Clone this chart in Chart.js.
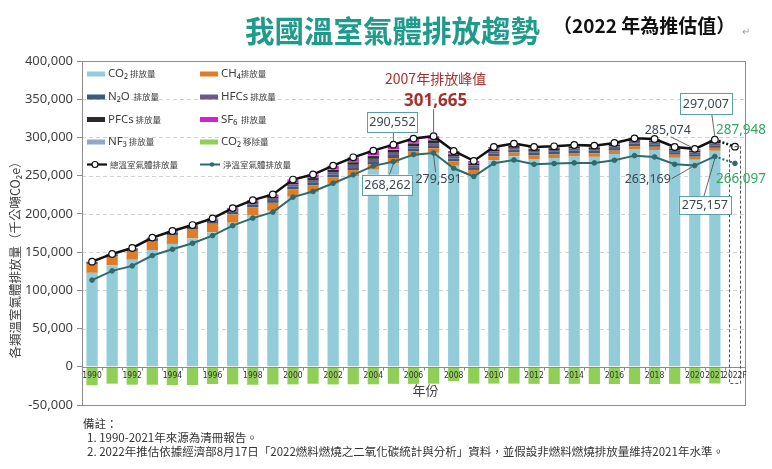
<!DOCTYPE html>
<html><head><meta charset="utf-8">
<script src="https://cdn.jsdelivr.net/npm/chart.js@4.4.0/dist/chart.umd.min.js"></script>
<style>
html,body{margin:0;padding:0;background:#fff;}
#wrap{position:relative;width:772px;height:469px;overflow:hidden;font-family:"Noto Sans CJK TC","Noto Sans",sans-serif;}
#c{position:absolute;left:0;top:0;}
.title{position:absolute;left:245px;top:15px;font-size:29.5px;font-weight:700;color:#1e9b8b;line-height:1;white-space:nowrap;}
.sub{position:absolute;left:553px;top:15px;font-size:19px;font-weight:700;color:#111;line-height:1;white-space:nowrap;}
.ret{position:absolute;left:742px;top:26px;font-size:10px;color:#999;line-height:1;}
.notes{position:absolute;left:83px;top:416px;font-size:11.5px;color:#333;line-height:14px;white-space:nowrap;}
.notes .i{padding-left:4px;}
</style></head>
<body>
<div id="wrap">
<canvas id="c" width="772" height="469"></canvas>
<div class="title">我國溫室氣體排放趨勢</div>
<div class="sub">（2022 年為推估值）</div>
<div class="ret">↵</div>
<div class="notes">備註：<br><span class="i">1. 1990-2021年來源為清冊報告。</span><br><span class="i">2. 2022年推估依據經濟部8月17日「2022燃料燃燒之二氧化碳統計與分析」資料，並假設非燃料燃燒排放量維持2021年水準。</span></div>
</div>
<script>
const years = ['1990','1991','1992','1993','1994','1995','1996','1997','1998','1999','2000','2001','2002','2003','2004','2005','2006','2007','2008','2009','2010','2011','2012','2013','2014','2015','2016','2017','2018','2019','2020','2021','2022'];
const tickLabels = ['1990','','1992','','1994','','1996','','1998','','2000','','2002','','2004','','2006','','2008','','2010','','2012','','2014','','2016','','2018','','2020','2021','2022F'];
const yTicks = [-50000,0,50000,100000,150000,200000,250000,300000,350000,400000];

const co2  = [122900,132600,140000,152700,160700,167900,175800,188400,197800,204200,222500,228500,239300,249500,257800,266300,275200,279900,262900,252100,270300,275400,271700,273000,275000,274600,278300,284200,283500,273300,270800,282500,null];
const ch4  = [11500,11600,11600,11800,11700,11500,11300,11000,10600,10200,9600,9000,8400,7800,7200,6800,6400,6000,5700,5400,5200,5000,4800,4700,4600,4500,4400,4300,4200,4100,4000,3900,null];
const n2o  = [2800,2900,3000,3100,3200,3300,3400,3500,3600,3700,3800,3800,3900,3900,4000,4000,4000,4000,3800,3600,3700,3600,3500,3500,3500,3400,3400,3400,3400,3300,3300,3300,null];
const hfcs = [300,400,600,900,1200,1500,1800,2100,2400,2600,2800,2900,3000,3000,3000,2900,2800,2700,2500,2400,2400,2400,2400,2400,2400,2400,2400,2500,2500,2500,2500,2600,null];
const pfcs = [0,0,0,100,200,300,500,800,1200,1600,2200,2600,3000,3300,3600,3700,3800,3600,3000,2400,2600,2500,2300,2200,2100,2000,2000,2000,2000,2000,2100,2200,null];
const sf6  = [0,100,200,400,600,900,1300,1800,2400,3000,3800,4400,5200,6000,6500,6200,5500,4600,3500,2600,2300,2000,1800,1600,1500,1400,1300,1300,1300,1200,1200,1200,null];
const nf3  = [0,0,0,0,0,0,0,0,0,100,200,300,400,500,600,700,800,900,900,800,1000,1000,1000,1000,1000,1000,1000,1100,1100,1100,1200,1300,null];
const removal = [-24100,-22100,-23400,-23500,-23900,-23800,-22500,-23000,-23500,-23100,-23000,-22200,-23100,-22900,-22900,-22300,-22400,-22100,-18800,-22000,-22000,-22000,-22300,-22500,-22300,-22600,-22500,-22500,-22500,-22400,-21900,-21850,-21851];
const total = [137500,147600,155400,169000,177600,185400,194100,207600,218000,225400,244900,251500,263200,274000,282700,290552,298500,301665,282300,269300,287500,291900,287500,288400,290100,289300,292800,298800,298000,287500,285074,297007,287948];
const net   = [113400,125500,132000,145500,153700,161600,171600,184600,194500,202300,221900,229300,240100,251100,262800,268262,277500,279591,259700,248900,266200,270600,264900,265800,266700,266700,270200,276200,274500,264900,263169,275157,266097];

const EST = years.length - 1;
const C = {co2:'#92ccd9', ch4:'#e07b26', n2o:'#3d5a7c', hfcs:'#6a5a86', pfcs:'#2b2b2b', sf6:'#d81fd8', nf3:'#91a9c6', rem:'#90cf56', tot:'#111111', net:'#2f6a6c'};
const fmt = v => v.toLocaleString('en-US');
const dash = c => c.p1DataIndex === EST ? [2,2] : undefined;

function barDs(label, data, color){
  return {type:'bar', label, data, backgroundColor: ctx => ctx.dataIndex === EST ? 'rgba(0,0,0,0)' : color,
          stack:'g', order:1, barPercentage:0.56, categoryPercentage:1, borderWidth:0};
}
const datasets = [
  {type:'line', label:'總溫室氣體排放量', data: total, stack:'tot', order:0, borderColor:C.tot, borderWidth:2.5,
   pointRadius:3.3, pointBackgroundColor:'#fff', pointBorderColor:C.tot, pointBorderWidth:1.2, tension:0,
   segment:{borderDash: dash}},
  {type:'line', label:'淨溫室氣體排放量', data: net, stack:'net', order:0, borderColor:C.net, borderWidth:2,
   pointRadius:2.3, pointBackgroundColor:C.net, pointBorderColor:C.net, pointBorderWidth:1, tension:0,
   segment:{borderDash: dash}},
  barDs('CO2 排放量', co2, C.co2),
  barDs('CH4排放量', ch4, C.ch4),
  barDs('N2O 排放量', n2o, C.n2o),
  barDs('HFCs 排放量', hfcs, C.hfcs),
  barDs('PFCs 排放量', pfcs, C.pfcs),
  barDs('NF3 排放量', nf3, C.nf3),
  barDs('SF6 排放量', sf6, C.sf6),
  barDs('CO2 移除量', removal, C.rem)
];
const REM = 9;

const legendItems = [
  [{sw:C.co2, a:'CO₂', b:' 排放量'}, {sw:C.ch4, a:'CH₄', b:'排放量'}],
  [{sw:C.n2o, a:'N₂O', b:'  排放量'}, {sw:C.hfcs, a:'HFCs', b:' 排放量'}],
  [{sw:C.pfcs, a:'PFCs', b:' 排放量'}, {sw:C.sf6, a:'SF₆', b:'  排放量'}],
  [{sw:C.nf3, a:'NF₃', b:' 排放量'}, {sw:C.rem, a:'CO₂', b:' 移除量'}],
  [{line:'tot', a:'', b:'總溫室氣體排放量'}, {line:'net', a:'', b:'淨溫室氣體排放量'}]
];

const LAT = '"Noto Sans","Liberation Sans",sans-serif';
const CJK = '"Noto Sans CJK TC","Noto Sans",sans-serif';

const deco = {
  id:'deco',
  beforeDatasetsDraw(chart){
    const {ctx, chartArea:a, scales:{y}} = chart;
    ctx.save();
    ctx.strokeStyle = '#d2d2d2'; ctx.lineWidth = 1; ctx.setLineDash([4,3]);
    yTicks.forEach(v => {
      if (v === 0 || v === yTicks[0] || v === yTicks[yTicks.length-1]) return;
      const py = Math.round(y.getPixelForValue(v)) + 0.5;
      ctx.beginPath(); ctx.moveTo(a.left, py); ctx.lineTo(a.right, py); ctx.stroke();
    });
    ctx.setLineDash([]);
    ctx.strokeStyle = '#8c8c8c';
    ctx.strokeRect(Math.round(a.left)+0.5, Math.round(a.top)+0.5, Math.round(a.right-a.left), Math.round(a.bottom-a.top));
    ctx.restore();
  },
  afterDatasetsDraw(chart){
    const {ctx, chartArea:a, scales:{x,y}} = chart;
    ctx.save();
    const y0 = Math.round(y.getPixelForValue(0)) + 0.5;
    ctx.strokeStyle = '#8c8c8c'; ctx.lineWidth = 1;
    ctx.beginPath(); ctx.moveTo(a.left, y0); ctx.lineTo(a.right, y0); ctx.stroke();
    const step = x.getPixelForValue(1) - x.getPixelForValue(0);
    for (let i = 0; i <= years.length; i++) {
      const px = Math.round(x.getPixelForValue(0) - step/2 + i*step) + 0.5;
      ctx.beginPath(); ctx.moveTo(px, y0); ctx.lineTo(px, y0+3); ctx.stroke();
    }
    ctx.fillStyle = '#333'; ctx.textAlign = 'center'; ctx.textBaseline = 'middle';
    ctx.font = '8.5px "Liberation Sans Narrow","DejaVu Sans Condensed","Liberation Sans",sans-serif';
    tickLabels.forEach((t,i) => { if (t) ctx.fillText(t, x.getPixelForValue(i), y0 + 8.5); });
    ctx.font = '13px ' + CJK; ctx.fillStyle = '#404040';
    ctx.fillText('年份', (a.left + a.right)/2 + 12, 390);
    const el = chart.getDatasetMeta(REM).data[EST];
    const bx = el.x - el.width/2, top = y.getPixelForValue(total[EST]), bot = y.getPixelForValue(removal[EST]);
    ctx.setLineDash([3,2]); ctx.strokeStyle = '#555'; ctx.lineWidth = 1;
    ctx.strokeRect(Math.round(bx)+0.5, top, Math.round(el.width), bot - top);
    ctx.setLineDash([]);
    ctx.save();
    ctx.translate(15, 257); ctx.rotate(-Math.PI/2);
    ctx.font = '12.5px ' + CJK; ctx.fillStyle = '#404040';
    ctx.fillText('各類溫室氣體排放量（千公噸CO₂e）', 0, 0);
    ctx.restore();
    const colX = [87, 200], rowY = [74, 97, 119.5, 142, 164.5];
    ctx.textAlign = 'left';
    legendItems.forEach((row, r) => row.forEach((it, c) => {
      const lx = colX[c], ly = rowY[r];
      let tx = lx + 21;
      if (it.sw) { ctx.fillStyle = it.sw; ctx.fillRect(lx, ly - 2.5, 18, 5); }
      else {
        const col = it.line === 'tot' ? C.tot : C.net;
        ctx.strokeStyle = col; ctx.lineWidth = it.line === 'tot' ? 2.2 : 2;
        ctx.beginPath(); ctx.moveTo(lx, ly); ctx.lineTo(lx + 20, ly); ctx.stroke();
        ctx.beginPath();
        if (it.line === 'tot') { ctx.arc(lx + 8, ly, 3, 0, 7); ctx.fillStyle = '#fff'; ctx.fill(); ctx.lineWidth = 1.2; ctx.stroke(); }
        else { ctx.arc(lx + 12, ly, 2.2, 0, 7); ctx.fillStyle = col; ctx.fill(); }
        tx = lx + 23;
      }
      ctx.fillStyle = '#404040';
      if (it.a) { ctx.font = '11.5px ' + LAT; ctx.fillText(it.a, tx, ly); tx += ctx.measureText(it.a).width; }
      ctx.font = '8.5px ' + CJK; ctx.fillText(it.b, tx, ly);
    }));
    const P = (ds, i) => chart.getDatasetMeta(ds).data[i];
    const line = (x1,y1,x2,y2) => { ctx.strokeStyle = '#555'; ctx.lineWidth = 0.9; ctx.beginPath(); ctx.moveTo(x1,y1); ctx.lineTo(x2,y2); ctx.stroke(); };
    const box = (cx, cy, w, h, t) => {
      ctx.fillStyle = '#fff'; ctx.fillRect(cx - w/2, cy - h/2, w, h);
      ctx.strokeStyle = '#5b9ea8'; ctx.lineWidth = 1; ctx.strokeRect(Math.round(cx - w/2)+0.5, Math.round(cy - h/2)+0.5, w, h);
      ctx.fillStyle = '#3a4650'; ctx.textAlign = 'center'; ctx.font = '12.5px ' + LAT; ctx.fillText(t, cx, cy + 0.5);
    };
    const txt = (cx, cy, t, col, f) => { ctx.fillStyle = col; ctx.textAlign = 'center'; ctx.font = f || ('12.5px ' + LAT); ctx.fillText(t, cx, cy); };
    const pk = 17, i05 = 15, i20 = 30, i21 = 31;
    let p = P(0, pk);
    line(p.x, p.y - 4, p.x, p.y - 27);
    txt(p.x + 2, p.y - 57, '2007年排放峰值', '#a8302c', '14px ' + CJK);
    txt(p.x + 2, p.y - 35, fmt(total[pk]), '#a8302c', 'bold 17px ' + LAT);
    p = P(0, i05); line(p.x, p.y - 3, p.x, p.y - 13); box(p.x - 1, p.y - 23, 50, 20, fmt(total[i05]));
    p = P(1, i05); line(p.x, p.y + 2, p.x - 4, p.y + 13); box(p.x - 6, p.y + 23, 50, 20, fmt(net[i05]));
    p = P(1, pk); line(p.x, p.y + 2, p.x + 2, p.y + 19); txt(p.x + 5, p.y + 26, fmt(net[pk]), '#3a4650');
    p = P(0, i20); line(p.x - 2, p.y - 1, p.x - 24, p.y - 12); txt(p.x - 27, p.y - 18, fmt(total[i20]), '#3a4650');
    p = P(1, i20); line(p.x - 2, p.y + 1, p.x - 23, p.y + 13); txt(p.x - 47, p.y + 14, fmt(net[i20]), '#3a4650');
    p = P(0, i21); line(p.x, p.y - 3, p.x - 3, p.y - 25); box(p.x - 9, p.y - 36, 52, 21, fmt(total[i21]));
    p = P(1, i21); line(p.x, p.y + 2, p.x - 11, p.y + 40); box(p.x - 10, p.y + 49, 52, 18, fmt(net[i21]));
    p = P(0, EST); txt(p.x + 6, p.y - 17, fmt(total[EST]), '#33a760', '13.5px ' + LAT);
    p = P(1, EST); txt(p.x + 6, p.y + 16, fmt(net[EST]), '#33a760', '13.5px ' + LAT);
    ctx.restore();
  }
};

new Chart(document.getElementById('c'), {
  data: {labels: years, datasets},
  options: {
    responsive:false, animation:false, devicePixelRatio:1,
    layout:{padding:{left:0, top:61, right:27, bottom:64}},
    plugins:{legend:{display:false}, tooltip:{enabled:false}},
    scales:{
      x:{stacked:true, display:false, offset:true},
      y:{stacked:true, min:-50000, max:400000,
         ticks:{stepSize:50000, color:'#404040', padding:4, font:{family:'"Noto Sans","Liberation Sans",sans-serif', size:13}, callback:v => fmt(v)},
         grid:{drawOnChartArea:false, drawTicks:true, tickLength:5, color:'#8c8c8c'},
         border:{display:true, color:'#8c8c8c'},
         afterFit(s){ s.width = 82; }}
    }
  },
  plugins:[deco]
});
</script>
</body></html>
